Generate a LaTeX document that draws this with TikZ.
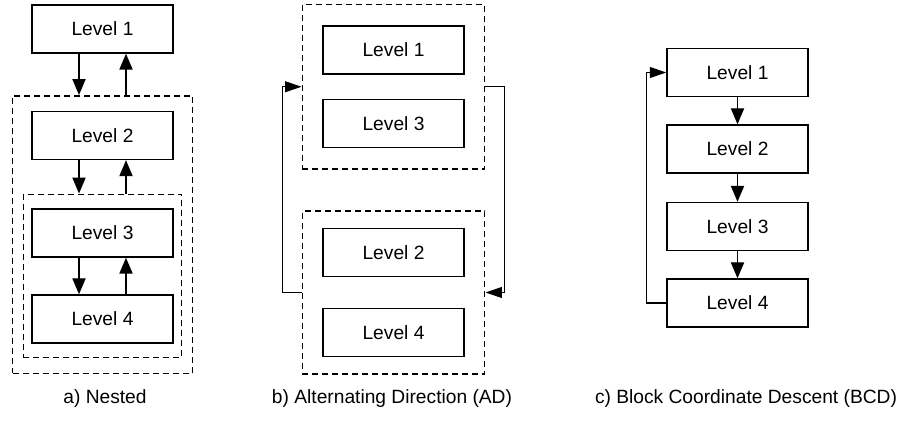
\documentclass[tikz,border=0pt]{standalone}
\usepackage{fontspec}
\setmainfont{Liberation Sans}
\usetikzlibrary{arrows.meta,positioning,fit}
\tikzset{
    every node/.append style={align=center,font=\fontsize{9.6pt}{11.5pt}\selectfont},
    level/.style={rectangle,draw=black,line width=0.7pt,minimum width=70.5pt,
        minimum height=24pt,inner sep=0pt},
    group/.style={rectangle,draw=black,line width=0.75pt,dash pattern=on 3pt off 2pt,
        inner sep=0pt},
    arr/.style={-{Triangle[length=8pt,width=6.6pt]},line width=0.7pt},
    backarr/.style={-{Triangle[length=8.2pt,width=5.4pt]},line width=0.7pt},
    captxt/.style={inner sep=0pt}
}

\begin{document}
\begin{tikzpicture}[x=0.5pt,y=-0.5pt]
    \useasboundingbox (0,0) rectangle (898,421);
    % a) nested
    \node[level] (a1) at (102.5, 29.0) {Level 1};
    \node[level] (a2) at (102.5,135.5) {Level 2};
    \node[level] (a3) at (102.5,233.0) {Level 3};
    \node[level] (a4) at (102.5,319.0) {Level 4};
    \node[group,fit=(a3)(a4),inner xsep=4pt,inner ysep=7pt] (ina) {};
    \node[group,fit=(a2)(ina),inner xsep=5pt,inner ysep=7.5pt] (outa) {};
    \coordinate (a1l) at ([xshift=-11.75pt]a1.south);
    \coordinate (a1r) at ([xshift=11.75pt]a1.south);
    \coordinate (a2l) at ([xshift=-11.75pt]a2.south);
    \coordinate (a2r) at ([xshift=11.75pt]a2.south);
    \coordinate (a3l) at ([xshift=-11.75pt]a3.south);
    \coordinate (a3r) at ([xshift=11.75pt]a3.south);

    \draw[arr] (a1l) -- (a1l |- outa.north);
    \draw[arr] (a1r |- outa.north) -- (a1r);
    \draw[arr] (a2l) -- (a2l |- ina.north);
    \draw[arr] (a2r |- ina.north) -- (a2r);
    \draw[arr] (a3l) -- (a3l |- a4.north);
    \draw[arr] (a3r |- a4.north) -- (a3r);

    % b) alternating direction
    \node[level] (b1) at (393.5, 50.0) {Level 1};
    \node[level] (b3) at (393.5,123.5) {Level 3};
    \node[level] (b2) at (393.5,252.5) {Level 2};
    \node[level] (b4) at (393.5,332.5) {Level 4};
    \node[group,fit=(b1)(b3),inner xsep=10pt,inner ysep=10.5pt] (upb) {};
    \node[group,fit=(b2)(b4),inner xsep=10pt,inner ysep=8.5pt] (lowb) {};

    \draw[backarr] (lowb.west) -- ++(-19,0) |- (upb.west);
    \draw[backarr] (upb.east) -- ++(19,0) |- (lowb.east);

    % c) block coordinate descent
    \node[level] (c1) at (737.5, 72.5) {Level 1};
    \node[level] (c2) at (737.5,149.0) {Level 2};
    \node[level] (c3) at (737.5,226.5) {Level 3};
    \node[level] (c4) at (737.5,303.0) {Level 4};

    \draw[arr] (c1) -- (c2);
    \draw[arr] (c2) -- (c3);
    \draw[arr] (c3) -- (c4);
    \draw[backarr] (c4.west) -- ++(-20,0) |- (c1.west);

    % captions
    \node[captxt] (capa) at (105,399) {a) Nested};
    \node[captxt] (capb) at (392,399) {b) Alternating Direction (AD)};
    \node[captxt] (capc) at (746,399) {c) Block Coordinate Descent (BCD)};
\end{tikzpicture}
\end{document}
